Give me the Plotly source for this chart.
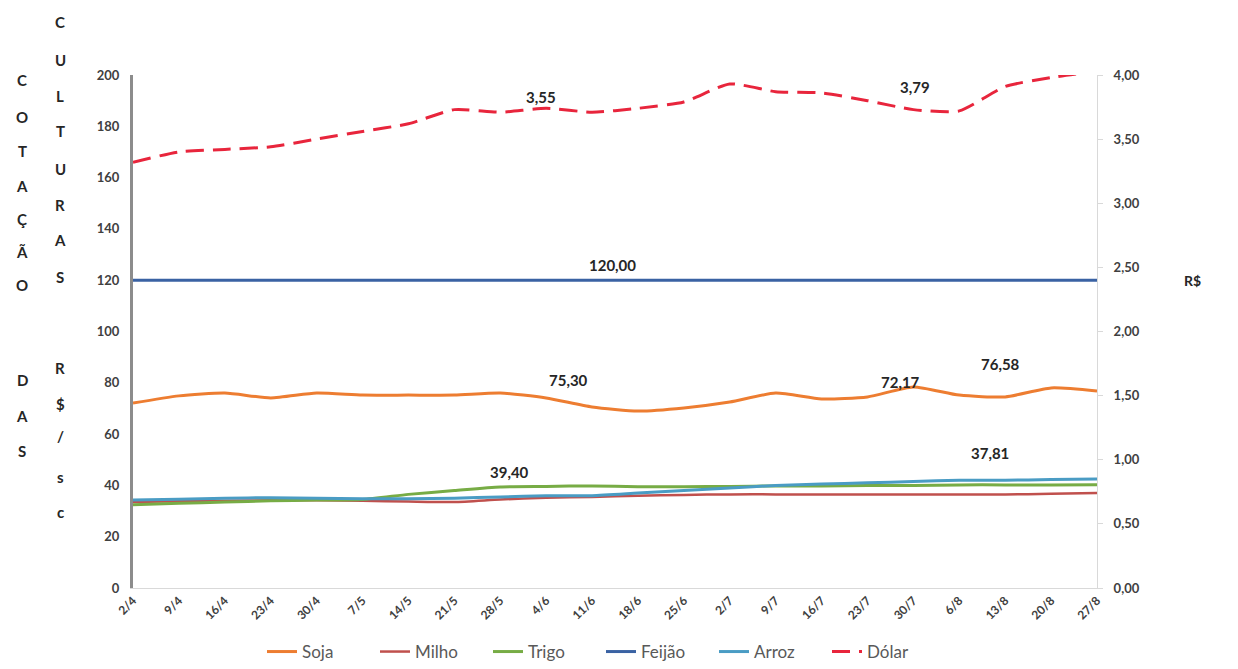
import plotly.graph_objects as go

datas = ["2/4", "9/4", "16/4", "23/4", "30/4", "7/5", "14/5", "21/5", "28/5", "4/6", "11/6",
         "18/6", "25/6", "2/7", "9/7", "16/7", "23/7", "30/7", "6/8", "13/8", "20/8", "27/8"]

soja = [72.1, 74.9, 76.0, 74.1, 76.0, 75.2, 75.2, 75.2, 76.0, 74.1, 70.6,
        69.0, 70.2, 72.5, 76.0, 73.7, 74.5, 78.4, 75.2, 74.5, 78.0, 76.8]
milho = [33.5, 33.8, 34.0, 34.2, 34.2, 34.0, 33.7, 33.5, 34.5, 35.2, 35.5,
         36.0, 36.3, 36.5, 36.5, 36.5, 36.5, 36.5, 36.5, 36.5, 36.7, 37.0]
trigo = [32.5, 33.0, 33.5, 34.0, 34.3, 34.5, 36.5, 38.0, 39.4, 39.6, 39.8,
         39.5, 39.5, 39.6, 39.8, 39.8, 40.0, 40.0, 40.2, 40.2, 40.2, 40.3]
feijao = [120.0] * 22
arroz = [34.3, 34.6, 35.0, 35.2, 35.0, 34.8, 34.8, 35.0, 35.5, 36.0, 36.0,
         37.0, 38.0, 39.0, 40.0, 40.5, 41.0, 41.5, 42.0, 42.0, 42.3, 42.5]
dolar = [3.32, 3.40, 3.42, 3.44, 3.50, 3.56, 3.62, 3.73, 3.71, 3.74, 3.71,
         3.74, 3.79, 3.93, 3.87, 3.86, 3.80, 3.73, 3.72, 3.91, 3.98, 4.03]

rotulos_texto = ["3,55", "3,79", "4,09", "120,00", "75,30", "72,17", "76,58", "39,40", "37,81"]
rotulos_x = [8.89, 17.04, 19.65, 10.44, 9.48, 16.71, 18.89, 8.21, 18.67]
rotulos_y = [191.4, 195.3, 201.2, 126.0, 81.1, 80.3, 87.3, 45.2, 52.6]

FONT = "Lato"
TXT = "#404040"
OFF = 8  # default page body margin
W, H = 1238 - OFF, 669 - OFF
# plot area in screen pixels
L, R, T, B = 133, 1097, 75, 588


def px_to_paper(xp, yp):
    return (xp - L) / (R - L), (B - yp) / (B - T)


fig = go.Figure()
series = [
    ("Soja", soja, "#ED7D31", "solid", "y", 3),
    ("Milho", milho, "#C0504D", "solid", "y", 2.5),
    ("Trigo", trigo, "#77AC45", "solid", "y", 3),
    ("Feijão", feijao, "#3A62A3", "solid", "y", 3),
    ("Arroz", arroz, "#4A9CC4", "solid", "y", 3),
    ("Dólar", dolar, "#E8253C", "18px,9px", "y2", 3),
]
for nome, vals, cor, dash, eixo, lw in series:
    fig.add_trace(go.Scatter(
        x=datas, y=vals, name=nome, mode="lines", yaxis=eixo,
        line=dict(color=cor, width=lw, dash=dash, shape="spline", smoothing=0.6),
    ))

for t, xv, yv in zip(rotulos_texto, rotulos_x, rotulos_y):
    fig.add_annotation(x=xv, y=yv, xref="x", yref="y", text=t, showarrow=False,
                       xanchor="center", yanchor="middle",
                       font=dict(family=FONT, size=15, color="#262626", weight="bold"))

# stacked vertical axis title letters
col1 = ["C", "O", "T", "A", "Ç", "Ã", "O", "D", "A", "S"]
col1_y = [80, 117, 151, 186, 219, 252, 285, 380, 416, 451]
col2 = ["C", "U", "L", "T", "U", "R", "A", "S", "R", "$", "/", "s", "c"]
col2_y = [22, 60, 96, 131, 169, 205, 240, 277, 368, 404, 436, 477, 512]
for xpix, letras, ys in ((22, col1, col1_y), (60, col2, col2_y)):
    for ch, yy in zip(letras, ys):
        px, py = px_to_paper(xpix, yy)
        fig.add_annotation(x=px, y=py, xref="paper", yref="paper", text=ch, showarrow=False,
                           xanchor="center", yanchor="middle",
                           font=dict(family=FONT, size=15, color="#262626", weight="bold"))

px, py = px_to_paper(1192, 280)
fig.add_annotation(x=px, y=py, xref="paper", yref="paper", text="R$", showarrow=False,
                   xanchor="center", yanchor="middle",
                   font=dict(family=FONT, size=14, color="#262626", weight="bold"))

lx, ly = px_to_paper(262, 670)
tickf = dict(family=FONT, size=13, color=TXT, weight="bold")
fig.update_layout(
    width=W, height=H,
    margin=dict(l=L - OFF, r=W + OFF - R, t=T - OFF, b=H + OFF - B, autoexpand=False),
    paper_bgcolor="white", plot_bgcolor="white",
    separators=",.",
    font=dict(family=FONT, size=13, color=TXT),
    showlegend=True,
    legend=dict(orientation="h", x=lx, xanchor="left", y=ly, yanchor="bottom",
                font=dict(family=FONT, size=17, color="#595959"),
                entrywidth=68, entrywidthmode="pixels", tracegroupgap=0),
    xaxis=dict(type="category", range=[0, 21], tickangle=-45, showgrid=False,
               showline=True, linecolor="#D9D9D9", linewidth=1, ticks="", automargin=False,
               tickfont=dict(family=FONT, size=12, color=TXT, weight="bold"), zeroline=False),
    yaxis=dict(range=[0, 200], dtick=20, showgrid=False, showline=True, automargin=False,
               linecolor="#8C8C8C", linewidth=3, ticks="", zeroline=False,
               tickfont=tickf, ticklabelstandoff=8),
    yaxis2=dict(range=[0, 4], dtick=0.5, tickformat=".2f", overlaying="y", side="right",
                showgrid=False, showline=True, linecolor="#D9D9D9", linewidth=1, automargin=False,
                ticks="outside", ticklen=5, tickcolor="#D9D9D9", zeroline=False,
                tickfont=tickf, ticklabelstandoff=8),
)

fig.write_html("out.html")
